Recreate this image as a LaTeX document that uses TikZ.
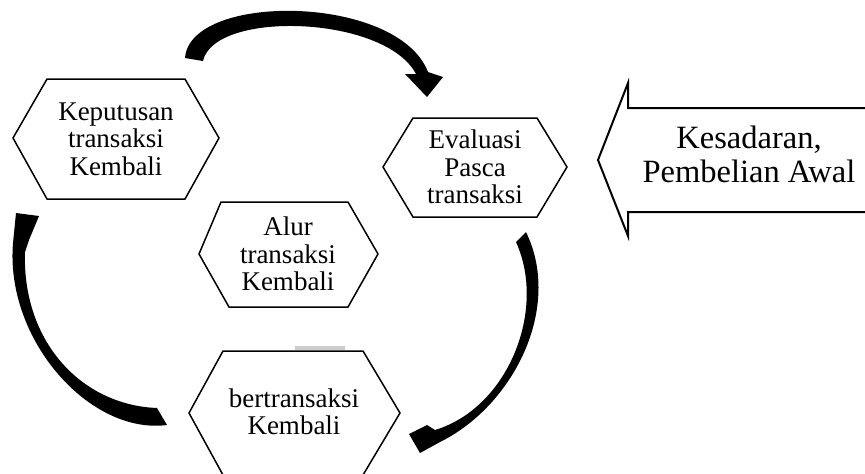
\documentclass[tikz,border=0pt]{standalone}
\usepackage{fontspec}
\setmainfont{Liberation Serif}
\begin{document}
\begin{tikzpicture}
[x=1pt,y=-1pt,
  hexdecorate/.style={draw,line width=1.5pt,line join=miter},%
  textdecorate/.style={align=center,inner sep=0pt,font=\fontsize{27}{27.5}\selectfont},%
  bigtextdecorate/.style={align=center,inner sep=0pt,font=\fontsize{32.5}{34}\selectfont},%
  bigarrowdecorate/.style={draw,line width=2pt,line join=miter},%
  curvedecorate/.style={fill=black}]
\useasboundingbox (0,0) rectangle (865,474);
%%% hexagons
% nodes or vertices
\draw[hexdecorate] (13,138) -- (47,79) -- (185,79) -- (219,138) -- (185,199) -- (47,199) -- cycle;
\node (kep) at (116,139) [textdecorate] {Keputusan\\transaksi\\Kembali};
\draw[hexdecorate] (383,167) -- (413,118) -- (537,118) -- (567,167) -- (537,217) -- (413,217) -- cycle;
\node (eva) at (475,167) [textdecorate] {Evaluasi\\Pasca\\transaksi};
\draw[hexdecorate] (199,254) -- (221,202) -- (348,202) -- (378,254) -- (348,307) -- (229,307) -- cycle;
\node (alur) at (288,254) [textdecorate] {Alur\\transaksi\\Kembali};
\fill[gray!40] (295,346) rectangle (345,350);
\draw[hexdecorate] (189,413) -- (223,351) -- (363,351) -- (400,413) -- (363,475) -- (223,475) -- cycle;
\node (ber) at (294,412) [textdecorate] {bertransaksi\\Kembali};
%
%%% big arrow
\draw[bigarrowdecorate] (870,108) -- (628,108) -- (628,83) -- (598,160) -- (628,236) -- (628,212) -- (870,212);
\node (kes) at (749,154) [bigtextdecorate] {Kesadaran,\\Pembelian Awal};
%
%%% curved arrows
% ends
\coordinate (kep-out) at (194,60);
\coordinate (eva-in) at (427,97);
\coordinate (eva-out) at (521,236);
\coordinate (ber-in) at (420,453);
\coordinate (ber-out) at (162,416);
\coordinate (kep-in) at (16,213);
% shapes
\fill[curvedecorate] (185,58) .. controls (190,-8) and (398,-6) .. (428,72)
  -- (443,77) -- (eva-in) -- (405,74) -- (416,74)
  .. controls (385,15) and (214,10) .. (203,61) -- cycle;
\fill[curvedecorate] (526,232) .. controls (563,308) and (513,406) .. (440,442)
  -- (ber-in) -- (409,434) -- (427,425) -- (435,430)
  .. controls (508,408) and (547,310) .. (516,242) -- cycle;
\fill[curvedecorate] (167,425) .. controls (90,435) and (5,340) .. (13,243)
  -- (kep-in) -- (39,216) -- (29,240) -- (25,252)
  .. controls (22,340) and (80,405) .. (157,408) -- cycle;
\end{tikzpicture}
\end{document}
